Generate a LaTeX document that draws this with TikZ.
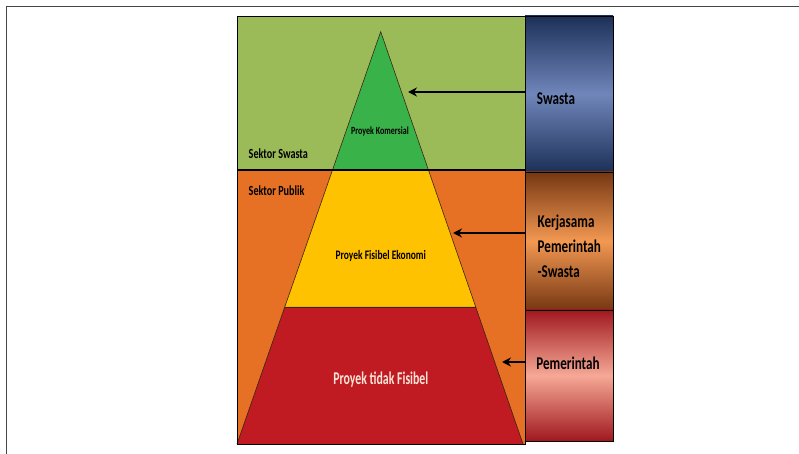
\documentclass[tikz,border=0pt]{standalone}
\usepackage{fontspec}
\setmainfont{Carlito}[FakeStretch=0.73]
\usetikzlibrary{arrows.meta}

\definecolor{swastabg}{RGB}{155,187,89}
\definecolor{publikbg}{RGB}{230,112,35}
\definecolor{komersial}{RGB}{58,178,74}
\definecolor{ekonomi}{RGB}{255,194,0}
\definecolor{tidak}{RGB}{192,26,34}
\definecolor{tidaktext}{RGB}{250,228,215}
\definecolor{navydark}{RGB}{28,48,88}
\definecolor{navylight}{RGB}{112,134,186}
\definecolor{browndark}{RGB}{118,55,18}
\definecolor{brownlight}{RGB}{242,152,82}
\definecolor{reddark}{RGB}{160,24,30}
\definecolor{redlight}{RGB}{246,168,150}
\definecolor{framegray}{RGB}{70,70,70}

\tikzset{
  sector/.style={draw=black, line width=0.8bp},
  tier/.style={draw=black!70!brown, line width=0.6bp},
  actor/.style={draw=black, line width=0.8bp},
  pointer/.style={draw=black, line width=2.6bp, -{Stealth[length=9bp,width=9bp]}},
  label/.style={inner sep=0pt, font=\bfseries},
}

\begin{document}
\begin{tikzpicture}[x=1bp,y=-1bp]
  \useasboundingbox (0,0) rectangle (799,454);

  % page frame (top and left rules only)
  \draw[framegray, line width=1.2bp] (6.5,454) -- (6.5,6.5) -- (799,6.5);

  % sector backgrounds
  \fill[swastabg] (237,16) rectangle (525,170);
  \fill[publikbg] (237,170) rectangle (525,444);

  % pyramid corners
  \coordinate (apex) at (380.7,31.7);
  \coordinate (l1) at (332.5,170);  \coordinate (r1) at (428.4,170);
  \coordinate (l2) at (284.8,307);  \coordinate (r2) at (475.7,307);
  \coordinate (l3) at (237,444);    \coordinate (r3) at (523,444);

  % pyramid tiers
  \fill[komersial] (apex) -- (r1) -- (l1) -- cycle;
  \fill[ekonomi] (l1) -- (r1) -- (r2) -- (l2) -- cycle;
  \fill[tidak] (l2) -- (r2) -- (r3) -- (l3) -- cycle;
  \draw[tier] (l3) -- (apex) -- (r3);
  \draw[tier] (l2) -- (r2);

  % sector outlines
  \draw[sector] (237,16) rectangle (525,444);
  \draw[black, line width=1.8bp] (237,170) -- (525,170);

  % actor column (middle color must come last)
  \shade[top color=navydark, bottom color=navydark, middle color=navylight]
    (525,16) rectangle (613,172);
  \shade[top color=browndark, bottom color=browndark, middle color=brownlight]
    (525,172) rectangle (613,310);
  \shade[top color=reddark, bottom color=reddark, middle color=redlight]
    (525,310) rectangle (613,441);
  \draw[actor] (525,16) rectangle (613,441);
  \draw[actor] (525,172) -- (613,172);
  \draw[actor] (525,310) -- (613,310);

  % arrows from actors to pyramid tiers
  \coordinate (aS) at (525,92);   \coordinate (tS) at (408,92);
  \coordinate (aK) at (525,233);  \coordinate (tK) at (453,233);
  \coordinate (aP) at (525,362);  \coordinate (tP) at (502,362);
  \draw[pointer] (aS) -- (tS);
  \draw[pointer] (aK) -- (tK);
  \draw[pointer] (aP) -- (tP);

  % texts
  \node[label, anchor=base west, font=\bfseries\fontsize{14}{14}\selectfont]
    (sswasta) at (248.5,158.5) {Sektor Swasta};
  \node[label, anchor=base west, font=\bfseries\fontsize{14}{14}\selectfont]
    (spublik) at (248.5,196) {Sektor Publik};
  \node[label, anchor=base, font=\bfseries\fontsize{11}{11}\selectfont]
    (pkom) at (380,135) {Proyek Komersial};
  \node[label, anchor=base, font=\bfseries\fontsize{13}{13}\selectfont]
    (peko) at (380.8,260) {Proyek Fisibel Ekonomi};
  \node[label, anchor=base, text=tidaktext,
        font=\bfseries\fontsize{18}{18}\selectfont\addfontfeatures{FakeStretch=0.66}]
    (ptidak) at (380.8,385) {Proyek tidak Fisibel};

  \node[label, anchor=base, font=\bfseries\fontsize{18}{18}\selectfont]
    (swasta) at (556,105) {Swasta};
  \node[label, anchor=base west, font=\bfseries\fontsize{18}{18}\selectfont]
    (kj1) at (537.5,228) {Kerjasama};
  \node[label, anchor=base west, font=\bfseries\fontsize{18}{18}\selectfont]
    (kj2) at (537.5,253) {Pemerintah};
  \node[label, anchor=base west, font=\bfseries\fontsize{18}{18}\selectfont]
    (kj3) at (537.5,278) {-Swasta};
  \node[label, anchor=base, font=\bfseries\fontsize{18}{18}\selectfont]
    (pem) at (568,370) {Pemerintah};
\end{tikzpicture}
\end{document}
